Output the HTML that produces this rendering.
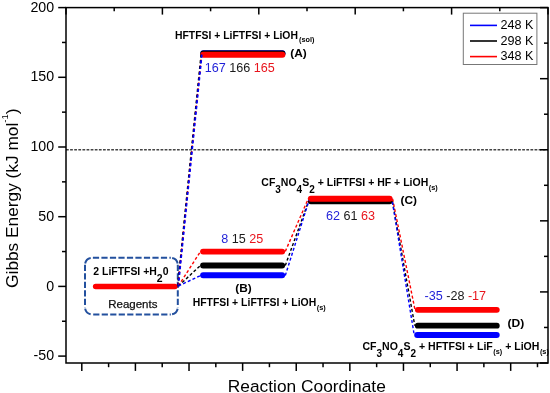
<!DOCTYPE html>
<html><head><meta charset="utf-8"><style>
html,body{margin:0;padding:0;background:#fff;}
body{width:550px;height:393px;overflow:hidden;}
svg{display:block;will-change:transform;}
text{font-family:"Liberation Sans", sans-serif;fill:#000;}
</style></head><body>
<svg width="550" height="393" viewBox="0 0 550 393">
<rect width="550" height="393" fill="#fff"/>
<line x1="66" y1="149.8" x2="548" y2="149.8" stroke="#444" stroke-width="1.6" stroke-dasharray="2.75 1.36"/>
<line x1="58.2" y1="7.60" x2="66" y2="7.60" stroke="#000" stroke-width="1.5"/>
<line x1="62" y1="42.45" x2="66" y2="42.45" stroke="#000" stroke-width="1.5"/>
<line x1="58.2" y1="77.30" x2="66" y2="77.30" stroke="#000" stroke-width="1.5"/>
<line x1="62" y1="112.15" x2="66" y2="112.15" stroke="#000" stroke-width="1.5"/>
<line x1="58.2" y1="147.00" x2="66" y2="147.00" stroke="#000" stroke-width="1.5"/>
<line x1="62" y1="181.85" x2="66" y2="181.85" stroke="#000" stroke-width="1.5"/>
<line x1="58.2" y1="216.70" x2="66" y2="216.70" stroke="#000" stroke-width="1.5"/>
<line x1="62" y1="251.55" x2="66" y2="251.55" stroke="#000" stroke-width="1.5"/>
<line x1="58.2" y1="286.40" x2="66" y2="286.40" stroke="#000" stroke-width="1.5"/>
<line x1="62" y1="321.25" x2="66" y2="321.25" stroke="#000" stroke-width="1.5"/>
<line x1="58.2" y1="356.10" x2="66" y2="356.10" stroke="#000" stroke-width="1.5"/>
<text x="54.1" y="11.70" text-anchor="end" font-size="14.2">200</text>
<text x="54.1" y="81.40" text-anchor="end" font-size="14.2">150</text>
<text x="54.1" y="151.10" text-anchor="end" font-size="14.2">100</text>
<text x="54.1" y="220.80" text-anchor="end" font-size="14.2">50</text>
<text x="54.1" y="290.50" text-anchor="end" font-size="14.2">0</text>
<text x="54.1" y="360.20" text-anchor="end" font-size="14.2">-50</text>
<line x1="540" y1="7.60" x2="548" y2="7.60" stroke="#000" stroke-width="1.5"/>
<line x1="544" y1="43.14" x2="548" y2="43.14" stroke="#000" stroke-width="1.5"/>
<line x1="540" y1="78.68" x2="548" y2="78.68" stroke="#000" stroke-width="1.5"/>
<line x1="544" y1="114.22" x2="548" y2="114.22" stroke="#000" stroke-width="1.5"/>
<line x1="540" y1="149.76" x2="548" y2="149.76" stroke="#000" stroke-width="1.5"/>
<line x1="544" y1="185.30" x2="548" y2="185.30" stroke="#000" stroke-width="1.5"/>
<line x1="540" y1="220.84" x2="548" y2="220.84" stroke="#000" stroke-width="1.5"/>
<line x1="544" y1="256.38" x2="548" y2="256.38" stroke="#000" stroke-width="1.5"/>
<line x1="540" y1="291.92" x2="548" y2="291.92" stroke="#000" stroke-width="1.5"/>
<line x1="544" y1="327.46" x2="548" y2="327.46" stroke="#000" stroke-width="1.5"/>
<line x1="540" y1="363.00" x2="548" y2="363.00" stroke="#000" stroke-width="1.5"/>
<line x1="66.00" y1="7.6" x2="66.00" y2="14.60" stroke="#000" stroke-width="1.5"/>
<line x1="114.20" y1="7.6" x2="114.20" y2="11.30" stroke="#000" stroke-width="1.5"/>
<line x1="162.40" y1="7.6" x2="162.40" y2="14.60" stroke="#000" stroke-width="1.5"/>
<line x1="210.60" y1="7.6" x2="210.60" y2="11.30" stroke="#000" stroke-width="1.5"/>
<line x1="258.80" y1="7.6" x2="258.80" y2="14.60" stroke="#000" stroke-width="1.5"/>
<line x1="307.00" y1="7.6" x2="307.00" y2="11.30" stroke="#000" stroke-width="1.5"/>
<line x1="355.20" y1="7.6" x2="355.20" y2="14.60" stroke="#000" stroke-width="1.5"/>
<line x1="403.40" y1="7.6" x2="403.40" y2="11.30" stroke="#000" stroke-width="1.5"/>
<line x1="451.60" y1="7.6" x2="451.60" y2="14.60" stroke="#000" stroke-width="1.5"/>
<line x1="499.80" y1="7.6" x2="499.80" y2="11.30" stroke="#000" stroke-width="1.5"/>
<line x1="548.00" y1="7.6" x2="548.00" y2="14.60" stroke="#000" stroke-width="1.5"/>
<line x1="81.80" y1="363.0" x2="81.80" y2="370.90" stroke="#000" stroke-width="1.5"/>
<line x1="108.60" y1="363.0" x2="108.60" y2="367.20" stroke="#000" stroke-width="1.5"/>
<line x1="135.41" y1="363.0" x2="135.41" y2="370.90" stroke="#000" stroke-width="1.5"/>
<line x1="162.21" y1="363.0" x2="162.21" y2="367.20" stroke="#000" stroke-width="1.5"/>
<line x1="189.02" y1="363.0" x2="189.02" y2="370.90" stroke="#000" stroke-width="1.5"/>
<line x1="215.82" y1="363.0" x2="215.82" y2="367.20" stroke="#000" stroke-width="1.5"/>
<line x1="242.63" y1="363.0" x2="242.63" y2="370.90" stroke="#000" stroke-width="1.5"/>
<line x1="269.43" y1="363.0" x2="269.43" y2="367.20" stroke="#000" stroke-width="1.5"/>
<line x1="296.24" y1="363.0" x2="296.24" y2="370.90" stroke="#000" stroke-width="1.5"/>
<line x1="323.04" y1="363.0" x2="323.04" y2="367.20" stroke="#000" stroke-width="1.5"/>
<line x1="349.85" y1="363.0" x2="349.85" y2="370.90" stroke="#000" stroke-width="1.5"/>
<line x1="376.65" y1="363.0" x2="376.65" y2="367.20" stroke="#000" stroke-width="1.5"/>
<line x1="403.46" y1="363.0" x2="403.46" y2="370.90" stroke="#000" stroke-width="1.5"/>
<line x1="430.26" y1="363.0" x2="430.26" y2="367.20" stroke="#000" stroke-width="1.5"/>
<line x1="457.07" y1="363.0" x2="457.07" y2="370.90" stroke="#000" stroke-width="1.5"/>
<line x1="483.87" y1="363.0" x2="483.87" y2="367.20" stroke="#000" stroke-width="1.5"/>
<line x1="510.68" y1="363.0" x2="510.68" y2="370.90" stroke="#000" stroke-width="1.5"/>
<line x1="537.48" y1="363.0" x2="537.48" y2="367.20" stroke="#000" stroke-width="1.5"/>
<rect x="66" y="7.6" width="482" height="355.4" fill="none" stroke="#000" stroke-width="1.5"/>
<text x="227.8" y="392.2" font-size="17.4" textLength="158" lengthAdjust="spacingAndGlyphs">Reaction Coordinate</text>
<text transform="translate(18.4,287.9) rotate(-90)" font-size="17.3">Gibbs Energy (kJ mol<tspan font-size="9.5" dy="-10.2">-1</tspan><tspan dy="10.2">)</tspan></text>
<rect x="463.3" y="13.2" width="73.6" height="51.3" fill="#fff" stroke="#777" stroke-width="1"/>
<line x1="470" y1="25.4" x2="497" y2="25.4" stroke="#0000ff" stroke-width="1.6"/>
<text x="500.6" y="29.2" font-size="12.6">248 K</text>
<line x1="470" y1="41.0" x2="497" y2="41.0" stroke="#000000" stroke-width="1.6"/>
<text x="500.6" y="44.8" font-size="12.6">298 K</text>
<line x1="470" y1="56.6" x2="497" y2="56.6" stroke="#ff0000" stroke-width="1.6"/>
<text x="500.6" y="60.4" font-size="12.6">348 K</text>
<path d="M92.9 257.8 H170.8" fill="none" stroke="#23509e" stroke-width="2.0" stroke-dasharray="6.2 2.3"/>
<path d="M93.2 314.4 H170.8" fill="none" stroke="#23509e" stroke-width="2.0" stroke-dasharray="6.2 2.3"/>
<path d="M85.0 264.8 V307.4" fill="none" stroke="#23509e" stroke-width="2.0" stroke-dasharray="6.2 2.3"/>
<path d="M177.8 264.8 V307.4" fill="none" stroke="#23509e" stroke-width="2.0" stroke-dasharray="6.2 2.3"/>
<path d="M85.0 264.8 A7.0 7.0 0 0 1 92.0 257.8" fill="none" stroke="#23509e" stroke-width="2.0" stroke-dasharray="0 1.4 8.2 3"/>
<path d="M170.8 257.8 A7.0 7.0 0 0 1 177.8 264.8" fill="none" stroke="#23509e" stroke-width="2.0" stroke-dasharray="0 1.4 8.2 3"/>
<path d="M177.8 307.4 A7.0 7.0 0 0 1 170.8 314.4" fill="none" stroke="#23509e" stroke-width="2.0" stroke-dasharray="0 1.4 8.2 3"/>
<path d="M92.0 314.4 A7.0 7.0 0 0 1 85.0 307.4" fill="none" stroke="#23509e" stroke-width="2.0" stroke-dasharray="0 1.4 8.2 3"/>
<line x1="95.65" y1="286.4" x2="174.85" y2="286.4" stroke="#ff0000" stroke-width="5.5" stroke-linecap="round"/>
<line x1="203.30" y1="53.2" x2="282.40" y2="53.2" stroke="#0000ff" stroke-width="6" stroke-linecap="round"/>
<line x1="203.30" y1="53.6" x2="282.40" y2="53.6" stroke="#000000" stroke-width="6" stroke-linecap="round"/>
<line x1="203.30" y1="54.8" x2="282.40" y2="54.8" stroke="#ff0000" stroke-width="6" stroke-linecap="round"/>
<line x1="203.05" y1="251.6" x2="282.15" y2="251.6" stroke="#ff0000" stroke-width="5.9" stroke-linecap="round"/>
<line x1="203.05" y1="265.55" x2="282.15" y2="265.55" stroke="#000000" stroke-width="5.9" stroke-linecap="round"/>
<line x1="203.10" y1="275.2" x2="282.10" y2="275.2" stroke="#0000ff" stroke-width="6.0" stroke-linecap="round"/>
<line x1="310.85" y1="200.0" x2="389.65" y2="200.0" stroke="#0000ff" stroke-width="5.9" stroke-linecap="round"/>
<line x1="310.85" y1="201.2" x2="389.65" y2="201.2" stroke="#000000" stroke-width="5.9" stroke-linecap="round"/>
<line x1="310.85" y1="198.8" x2="389.65" y2="198.8" stroke="#ff0000" stroke-width="5.9" stroke-linecap="round"/>
<line x1="417.80" y1="309.8" x2="496.80" y2="309.8" stroke="#ff0000" stroke-width="5.8" stroke-linecap="round"/>
<line x1="417.80" y1="325.7" x2="496.80" y2="325.7" stroke="#000000" stroke-width="5.8" stroke-linecap="round"/>
<line x1="417.20" y1="334.9" x2="496.70" y2="334.9" stroke="#0000ff" stroke-width="6" stroke-linecap="round"/>
<line x1="178.0" y1="285.8" x2="201.6" y2="54.2" stroke="#ff0000" stroke-width="1.6" stroke-dasharray="3.1 2.65"/>
<line x1="177.7" y1="286.4" x2="201.2" y2="54.6" stroke="#000000" stroke-width="1.7" stroke-dasharray="3.1 2.65"/>
<line x1="178.2" y1="286.4" x2="201.8" y2="54.6" stroke="#0000ff" stroke-width="1.8" stroke-dasharray="3.1 2.65"/>
<line x1="178.4" y1="286.0" x2="200.5" y2="251.4" stroke="#ff0000" stroke-width="1.4" stroke-dasharray="3 2.2"/>
<line x1="178.4" y1="286.0" x2="200.5" y2="265.5" stroke="#000000" stroke-width="1.4" stroke-dasharray="3 2.2"/>
<line x1="178.4" y1="286.0" x2="200.5" y2="275.5" stroke="#0000ff" stroke-width="1.4" stroke-dasharray="3 2.2"/>
<line x1="285.3" y1="251.4" x2="308.2" y2="198.8" stroke="#ff0000" stroke-width="1.4" stroke-dasharray="3 2.2"/>
<line x1="285.3" y1="265.5" x2="308.6" y2="201.2" stroke="#000000" stroke-width="1.4" stroke-dasharray="3 2.2"/>
<line x1="285.3" y1="275.5" x2="309.0" y2="200.5" stroke="#0000ff" stroke-width="1.4" stroke-dasharray="3 2.2"/>
<line x1="392.6" y1="198.8" x2="415.0" y2="309.8" stroke="#ff0000" stroke-width="1.4" stroke-dasharray="3 2.2"/>
<line x1="392.4" y1="201.5" x2="414.8" y2="325.7" stroke="#000000" stroke-width="1.4" stroke-dasharray="3 2.2"/>
<line x1="392.4" y1="202.0" x2="414.2" y2="334.9" stroke="#0000ff" stroke-width="1.4" stroke-dasharray="3 2.2"/>
<text x="204.8" y="72.0" font-size="12.6"><tspan fill="#1f1fd8">167</tspan><tspan> </tspan><tspan fill="#1a1a1a">166</tspan><tspan> </tspan><tspan fill="#e8141c">165</tspan></text>
<text x="221.2" y="242.6" font-size="12.6"><tspan fill="#1f1fd8">8</tspan><tspan> </tspan><tspan fill="#1a1a1a">15</tspan><tspan> </tspan><tspan fill="#e8141c">25</tspan></text>
<text x="326.0" y="220.0" font-size="12.6"><tspan fill="#1f1fd8">62</tspan><tspan> </tspan><tspan fill="#1a1a1a">61</tspan><tspan> </tspan><tspan fill="#e8141c">63</tspan></text>
<text x="424.5" y="300.0" font-size="12.6"><tspan fill="#1f1fd8">-35</tspan><tspan> </tspan><tspan fill="#1a1a1a">-28</tspan><tspan> </tspan><tspan fill="#e8141c">-17</tspan></text>
<text x="175.0" y="38.6" font-size="10.4" font-weight="bold" >HFTFSI + LiFTFSI + LiOH<tspan font-size="7.3" dy="3.8" dx="1">(sol)</tspan></text>
<text transform="translate(290.3,56.8) scale(1.08,1)" font-size="11" font-weight="bold">(A)</text>
<text transform="translate(235.3,292.3) scale(1.08,1)" font-size="11" font-weight="bold">(B)</text>
<text transform="translate(400.6,204.3) scale(1.08,1)" font-size="11" font-weight="bold">(C)</text>
<text transform="translate(507.4,326.6) scale(1.1,1)" font-size="11" font-weight="bold">(D)</text>
<text x="192.7" y="305.5" font-size="10.45" font-weight="bold" >HFTFSI + LiFTFSI + LiOH<tspan font-size="7.3" dy="4.2" dx="0.5">(s)</tspan></text>
<text x="261.3" y="185.5" font-size="10.5" font-weight="bold" >CF<tspan dy="7.0" font-size="10">3</tspan><tspan dy="-7.0">NO</tspan><tspan dy="7.0" font-size="10">4</tspan><tspan dy="-7.0">S</tspan><tspan dy="7.0" font-size="10">2</tspan><tspan dy="-7.0"> + LiFTFSI + HF + LiOH</tspan><tspan font-size="7.3" dy="4.2" dx="0.5">(s)</tspan></text>
<text x="362.4" y="349.9" font-size="10.55" font-weight="bold" >CF<tspan dy="7.0" font-size="10">3</tspan><tspan dy="-7.0">NO</tspan><tspan dy="7.0" font-size="10">4</tspan><tspan dy="-7.0">S</tspan><tspan dy="7.0" font-size="10">2</tspan><tspan dy="-7.0"> + HFTFSI + LiF</tspan><tspan font-size="7.3" dy="4.2" dx="0.5">(s)</tspan><tspan dy="-4.2"> + LiOH</tspan><tspan font-size="7.3" dy="4.2" dx="0.5">(s)</tspan></text>
<text x="93.3" y="275.1" font-size="10.45" font-weight="bold" >2 LiFTFSI +H<tspan dy="6.8">2</tspan><tspan dy="-6.8">0</tspan></text>
<text x="108.2" y="308.2" font-size="11.5" fill="#2a2a2a" stroke="#2a2a2a" stroke-width="0.25">Reagents</text>
</svg>
</body></html>
